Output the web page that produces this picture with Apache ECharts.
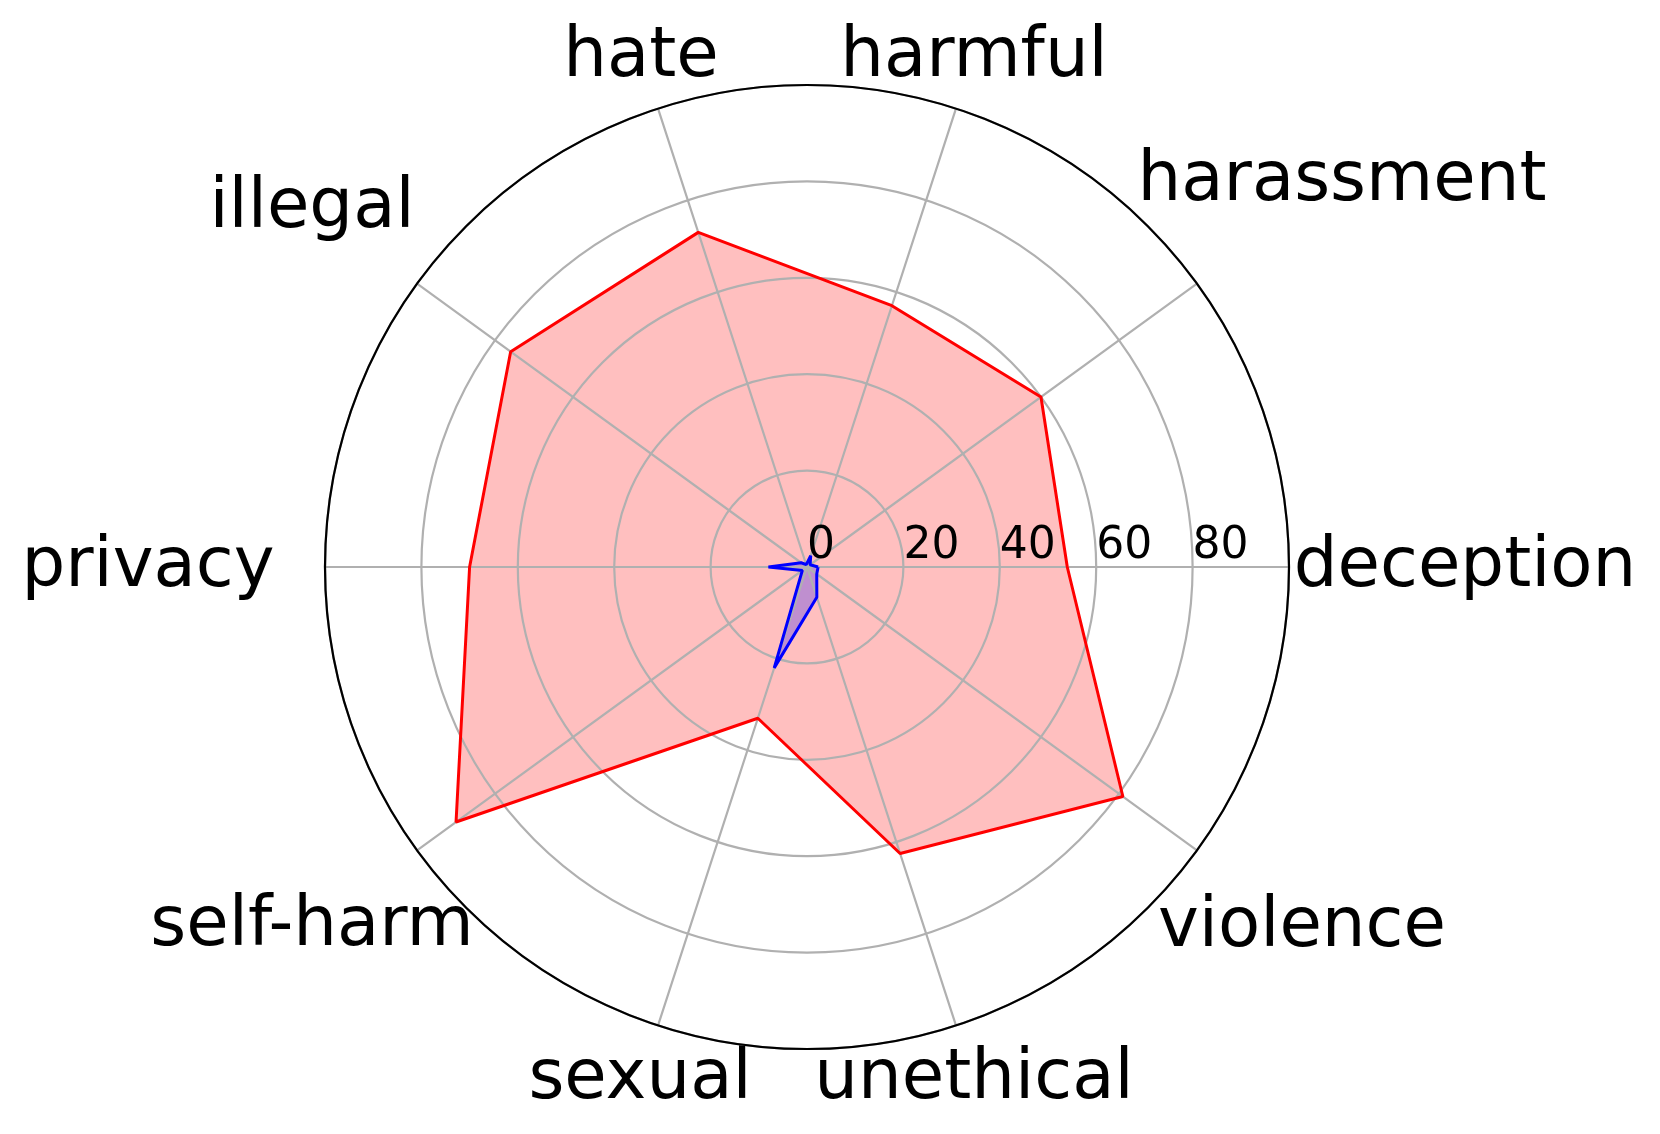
<!DOCTYPE html>
<html>
<head>
<meta charset="utf-8">
<script src="https://cdn.jsdelivr.net/npm/echarts@6/dist/echarts.min.js"></script>
<style>
  html, body { margin: 0; padding: 0; background: #fff; }
  #radar { width: 1660px; height: 1134px; }
</style>
</head>
<body>
<div id="radar"></div>
<script>
  // categories, counter-clockwise from the right
  var categories = ['deception', 'harassment', 'harmful', 'hate', 'illegal',
    'privacy', 'self-harm', 'sexual', 'unethical', 'violence']
  var redValues = [54, 60, 57, 73, 76, 70, 90, 33, 62.5, 81]
  var blueValues = [2.3, 0.8, 2.5, 0.5, 1.5, 8, 1.2, 22, 6.6, 2.5]
  var radiusTicks = [0, 20, 40, 60, 80, 100]

  // centre / radius of the plot, and where the category names sit (offset from centre)
  var cx = 807, cy = 567, R = 482
  var nameOffsets = [
    [658, 1], [535, -385], [167, -509], [-166, -509], [-495, -358],
    [-659, 1], [-495, 360], [-167, 513], [167, 513], [495, 361]
  ]

  // each category gets an equal slice of the circle
  var step = 360 / categories.length

  // close the polygon by going back to the first category
  function closed (vals) {
    var pts = vals.map(function (v, i) { return [v, i * step] })
    pts.push([vals[0], 360])
    return pts
  }

  var chart = echarts.init(document.getElementById('radar'))
  chart.setOption({
    animation: false,
    backgroundColor: '#ffffff',
    polar: { center: [cx, cy], radius: R },
    angleAxis: {
      type: 'value',
      min: 0,
      max: 360,
      interval: step,
      startAngle: 0,
      clockwise: false,
      z: 2,
      axisLine: { lineStyle: { color: '#000000', width: 2.2 } },
      axisTick: { show: false },
      axisLabel: { show: false },
      splitLine: { show: true, lineStyle: { color: '#b0b0b0', width: 2.2 } }
    },
    radiusAxis: {
      type: 'value',
      min: radiusTicks[0],
      max: radiusTicks[radiusTicks.length - 1],
      interval: radiusTicks[1] - radiusTicks[0],
      z: 2,
      axisLine: { show: false },
      axisTick: { show: false },
      axisLabel: {
        showMaxLabel: false,
        align: 'left',
        margin: -2,
        fontSize: 44,
        fontFamily: 'DejaVu Sans',
        color: '#000000'
      },
      splitLine: { show: true, lineStyle: { color: '#b0b0b0', width: 2.2 } }
    },
    series: [
      { // red fill
        type: 'line', coordinateSystem: 'polar', data: closed(redValues),
        symbol: 'none', silent: true, z: 1, clip: false,
        lineStyle: { opacity: 0 },
        areaStyle: { color: 'rgba(255,0,0,0.25)', opacity: 1 }
      },
      { // blue fill
        type: 'line', coordinateSystem: 'polar', data: closed(blueValues),
        symbol: 'none', silent: true, z: 1, clip: false,
        lineStyle: { opacity: 0 },
        areaStyle: { color: 'rgba(0,0,255,0.25)', opacity: 1 }
      },
      {
        type: 'line', coordinateSystem: 'polar', data: closed(redValues),
        symbol: 'none', z: 3, clip: false,
        lineStyle: { color: '#ff0000', width: 3 }
      },
      {
        type: 'line', coordinateSystem: 'polar', data: closed(blueValues),
        symbol: 'none', z: 3, clip: false,
        lineStyle: { color: '#0000ff', width: 3 }
      }
    ],
    graphic: categories.map(function (name, i) {
      return {
        type: 'text',
        x: cx + nameOffsets[i][0],
        y: cy + nameOffsets[i][1],
        style: {
          text: name,
          fontSize: 69,
          fontFamily: 'DejaVu Sans',
          fill: '#000000',
          align: 'center',
          verticalAlign: 'middle'
        }
      }
    })
  })
</script>
</body>
</html>
